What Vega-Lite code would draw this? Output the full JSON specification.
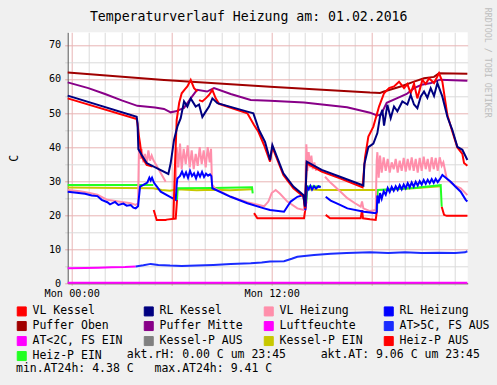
{
"$schema": "https://vega.github.io/schema/vega-lite/v6.json",
"width": 400, "height": 251,
"autosize": {"type": "none"},
"padding": {"left": 67.7, "top": 32.3, "right": 29.3, "bottom": 101.7},
"background": "#f0f0f0",
"title": {"text": "Temperaturverlauf Heizung am: 01.02.2016", "font": "DejaVu Sans Mono", "fontSize": 13.2, "fontWeight": "normal", "color": "#000000", "anchor": "middle", "frame": "group", "dx": -19, "offset": -27.3, "baseline": "alphabetic"},
"data": {"values": [
{"s":"Luftfeuchte","h":-0.24,"v":0.15},{"s":"Luftfeuchte","h":23.74,"v":0.15},
{"s":"AT<2C, FS EIN","h":-0.24,"v":4.4},{"s":"AT<2C, FS EIN","h":0.8,"v":4.5},{"s":"AT<2C, FS EIN","h":1.6,"v":4.6},{"s":"AT<2C, FS EIN","h":2.4,"v":4.7},{"s":"AT<2C, FS EIN","h":3.2,"v":4.8},{"s":"AT<2C, FS EIN","h":3.84,"v":4.95},
{"s":"AT>5C, FS AUS","h":3.84,"v":4.95},{"s":"AT>5C, FS AUS","h":4.3,"v":5.3},{"s":"AT>5C, FS AUS","h":4.74,"v":5.7},{"s":"AT>5C, FS AUS","h":5.2,"v":5.4},{"s":"AT>5C, FS AUS","h":5.9,"v":5.2},{"s":"AT>5C, FS AUS","h":6.6,"v":5.1},{"s":"AT>5C, FS AUS","h":7.5,"v":5.2},{"s":"AT>5C, FS AUS","h":8.5,"v":5.4},{"s":"AT>5C, FS AUS","h":9.54,"v":5.7},{"s":"AT>5C, FS AUS","h":10.74,"v":5.9},{"s":"AT>5C, FS AUS","h":11.4,"v":6.1},{"s":"AT>5C, FS AUS","h":11.9,"v":6.4},{"s":"AT>5C, FS AUS","h":12.74,"v":6.5},{"s":"AT>5C, FS AUS","h":13.2,"v":7.2},{"s":"AT>5C, FS AUS","h":13.54,"v":7.8},{"s":"AT>5C, FS AUS","h":14.54,"v":8.3},{"s":"AT>5C, FS AUS","h":15.54,"v":8.7},{"s":"AT>5C, FS AUS","h":16.5,"v":8.9},{"s":"AT>5C, FS AUS","h":17.9,"v":9.1},{"s":"AT>5C, FS AUS","h":19,"v":8.9},{"s":"AT>5C, FS AUS","h":20,"v":9.1},{"s":"AT>5C, FS AUS","h":21,"v":8.9},{"s":"AT>5C, FS AUS","h":22,"v":9.0},{"s":"AT>5C, FS AUS","h":23,"v":8.9},{"s":"AT>5C, FS AUS","h":23.6,"v":9.1},{"s":"AT>5C, FS AUS","h":23.74,"v":9.4},
{"s":"Puffer Oben","h":-0.24,"v":61.9},{"s":"Puffer Oben","h":5.54,"v":59.7},{"s":"Puffer Oben","h":11.9,"v":57.7},{"s":"Puffer Oben","h":17.9,"v":56.0},{"s":"Puffer Oben","h":18.5,"v":55.9},{"s":"Puffer Oben","h":18.74,"v":56.3},{"s":"Puffer Oben","h":19.74,"v":57.8},{"s":"Puffer Oben","h":20.54,"v":59.2},{"s":"Puffer Oben","h":21.14,"v":60.2},{"s":"Puffer Oben","h":21.74,"v":60.6},{"s":"Puffer Oben","h":22.04,"v":61.7},{"s":"Puffer Oben","h":23.74,"v":61.5},
{"s":"Puffer Mitte","h":-0.24,"v":59.0},{"s":"Puffer Mitte","h":1.0,"v":57.3},{"s":"Puffer Mitte","h":2.0,"v":55.6},{"s":"Puffer Mitte","h":3.0,"v":53.7},{"s":"Puffer Mitte","h":3.94,"v":52.1},{"s":"Puffer Mitte","h":5.0,"v":51.6},{"s":"Puffer Mitte","h":5.54,"v":51.2},{"s":"Puffer Mitte","h":5.94,"v":50.2},{"s":"Puffer Mitte","h":6.24,"v":50.5},{"s":"Puffer Mitte","h":6.74,"v":51.5},{"s":"Puffer Mitte","h":7.14,"v":54.3},{"s":"Puffer Mitte","h":7.52,"v":56.8},{"s":"Puffer Mitte","h":8.12,"v":56.3},{"s":"Puffer Mitte","h":8.54,"v":57.3},{"s":"Puffer Mitte","h":9.54,"v":55.6},{"s":"Puffer Mitte","h":10.74,"v":53.8},{"s":"Puffer Mitte","h":11.9,"v":53.6},{"s":"Puffer Mitte","h":13.94,"v":53.1},{"s":"Puffer Mitte","h":16.52,"v":51.7},{"s":"Puffer Mitte","h":17.9,"v":50.1},{"s":"Puffer Mitte","h":18.32,"v":49.3},{"s":"Puffer Mitte","h":18.55,"v":49.5},{"s":"Puffer Mitte","h":18.9,"v":53.0},{"s":"Puffer Mitte","h":19.6,"v":54.5},{"s":"Puffer Mitte","h":20.1,"v":55.6},{"s":"Puffer Mitte","h":20.54,"v":57.3},{"s":"Puffer Mitte","h":21.0,"v":58.3},{"s":"Puffer Mitte","h":21.56,"v":58.8},{"s":"Puffer Mitte","h":22.1,"v":59.8},{"s":"Puffer Mitte","h":23.74,"v":59.5},
{"s":"Kessel-P EIN","h":-0.24,"v":28.1},{"s":"Kessel-P EIN","h":4.9,"v":27.9},{"s":"Kessel-P EIN","h":5.4,"v":27.4},{"s":"Kessel-P EIN","h":5.9,"v":27.2},{"s":"Kessel-P EIN","h":6.3,"v":27.6},{"s":"Kessel-P EIN","h":7.5,"v":27.3},{"s":"Kessel-P EIN","h":8.5,"v":27.5},{"s":"Kessel-P EIN","h":9.5,"v":27.3},{"s":"Kessel-P EIN","h":10.82,"v":27.6},{"s":"Kessel-P EIN","h":12,"v":null},{"s":"Kessel-P EIN","h":14.1,"v":27.6},{"s":"Kessel-P EIN","h":14.94,"v":27.4},{"s":"Kessel-P EIN","h":15.2,"v":27.4},{"s":"Kessel-P EIN","h":18.3,"v":27.4},{"s":"Kessel-P EIN","h":19.0,"v":27.5},{"s":"Kessel-P EIN","h":20.5,"v":27.9},{"s":"Kessel-P EIN","h":22.14,"v":28.5},
{"s":"Heiz-P AUS","h":4.92,"v":21.5},{"s":"Heiz-P AUS","h":5.1,"v":18.6},{"s":"Heiz-P AUS","h":5.64,"v":18.6},{"s":"Heiz-P AUS","h":5.7,"v":18.7},{"s":"Heiz-P AUS","h":6.24,"v":19.0},{"s":"Heiz-P AUS","h":6.32,"v":24.5},{"s":"Heiz-P AUS","h":8,"v":null},{"s":"Heiz-P AUS","h":10.94,"v":20.6},{"s":"Heiz-P AUS","h":11.14,"v":19.1},{"s":"Heiz-P AUS","h":13.94,"v":19.1},{"s":"Heiz-P AUS","h":14.08,"v":24.0},{"s":"Heiz-P AUS","h":15.1,"v":null},{"s":"Heiz-P AUS","h":15.24,"v":20.1},{"s":"Heiz-P AUS","h":15.5,"v":19.1},{"s":"Heiz-P AUS","h":17.34,"v":19.1},{"s":"Heiz-P AUS","h":17.42,"v":21.5},{"s":"Heiz-P AUS","h":17.48,"v":19.1},{"s":"Heiz-P AUS","h":17.9,"v":18.8},{"s":"Heiz-P AUS","h":18.24,"v":18.6},{"s":"Heiz-P AUS","h":18.32,"v":21.5},{"s":"Heiz-P AUS","h":20,"v":null},{"s":"Heiz-P AUS","h":22.2,"v":22.5},{"s":"Heiz-P AUS","h":22.34,"v":20.1},{"s":"Heiz-P AUS","h":22.5,"v":19.8},{"s":"Heiz-P AUS","h":23.74,"v":19.8},
{"s":"Heiz-P EIN","h":-0.24,"v":28.9},{"s":"Heiz-P EIN","h":4.9,"v":28.9},{"s":"Heiz-P EIN","h":5.5,"v":null},{"s":"Heiz-P EIN","h":6.32,"v":24.5},{"s":"Heiz-P EIN","h":6.36,"v":27.9},{"s":"Heiz-P EIN","h":8.5,"v":28.0},{"s":"Heiz-P EIN","h":10.82,"v":28.2},{"s":"Heiz-P EIN","h":10.86,"v":26.4},{"s":"Heiz-P EIN","h":12,"v":null},{"s":"Heiz-P EIN","h":14.08,"v":24.0},{"s":"Heiz-P EIN","h":14.14,"v":28.4},{"s":"Heiz-P EIN","h":14.94,"v":28.4},{"s":"Heiz-P EIN","h":16,"v":null},{"s":"Heiz-P EIN","h":18.32,"v":21.5},{"s":"Heiz-P EIN","h":18.36,"v":27.4},{"s":"Heiz-P EIN","h":20.5,"v":28.0},{"s":"Heiz-P EIN","h":22.14,"v":28.8},{"s":"Heiz-P EIN","h":22.2,"v":22.5},
{"s":"VL Heizung","h":-0.24,"v":27.4},{"s":"VL Heizung","h":0.5,"v":27.0},{"s":"VL Heizung","h":1.0,"v":26.6},{"s":"VL Heizung","h":1.54,"v":26.0},{"s":"VL Heizung","h":2.14,"v":24.5},{"s":"VL Heizung","h":2.8,"v":24.0},{"s":"VL Heizung","h":3.54,"v":23.5},{"s":"VL Heizung","h":3.84,"v":23.0},{"s":"VL Heizung","h":3.98,"v":23.5},{"s":"VL Heizung","h":4.04,"v":41.0},{"s":"VL Heizung","h":4.12,"v":36.5},{"s":"VL Heizung","h":4.2,"v":39.5},{"s":"VL Heizung","h":4.3,"v":35.5},{"s":"VL Heizung","h":4.4,"v":38.0},{"s":"VL Heizung","h":4.5,"v":35.0},{"s":"VL Heizung","h":4.6,"v":39.0},{"s":"VL Heizung","h":4.7,"v":36.0},{"s":"VL Heizung","h":4.8,"v":37.5},{"s":"VL Heizung","h":4.9,"v":36.2},{"s":"VL Heizung","h":5.64,"v":29.8},{"s":"VL Heizung","h":5.9,"v":null},
{"s":"VL Heizung","h":6.24,"v":27.5},{"s":"VL Heizung","h":6.3,"v":40.0},{"s":"VL Heizung","h":6.4,"v":34.0},{"s":"VL Heizung","h":6.5,"v":41.0},{"s":"VL Heizung","h":6.6,"v":33.5},{"s":"VL Heizung","h":6.72,"v":39.5},{"s":"VL Heizung","h":6.84,"v":35.0},{"s":"VL Heizung","h":6.96,"v":40.5},{"s":"VL Heizung","h":7.08,"v":34.0},{"s":"VL Heizung","h":7.2,"v":39.0},{"s":"VL Heizung","h":7.32,"v":33.5},{"s":"VL Heizung","h":7.44,"v":38.0},{"s":"VL Heizung","h":7.56,"v":34.5},{"s":"VL Heizung","h":7.68,"v":40.0},{"s":"VL Heizung","h":7.8,"v":35.0},{"s":"VL Heizung","h":7.92,"v":39.0},{"s":"VL Heizung","h":8.04,"v":34.0},{"s":"VL Heizung","h":8.16,"v":40.0},{"s":"VL Heizung","h":8.28,"v":35.5},{"s":"VL Heizung","h":8.36,"v":39.5},{"s":"VL Heizung","h":8.42,"v":29.0},{"s":"VL Heizung","h":8.6,"v":27.9},{"s":"VL Heizung","h":9.54,"v":25.4},{"s":"VL Heizung","h":10.54,"v":23.8},{"s":"VL Heizung","h":11.54,"v":22.6},{"s":"VL Heizung","h":11.8,"v":24.0},{"s":"VL Heizung","h":12.0,"v":26.5},{"s":"VL Heizung","h":12.24,"v":27.4},{"s":"VL Heizung","h":12.5,"v":26.3},{"s":"VL Heizung","h":12.94,"v":24.0},{"s":"VL Heizung","h":13.54,"v":22.0},{"s":"VL Heizung","h":13.94,"v":21.5},{"s":"VL Heizung","h":14.02,"v":28.0},{"s":"VL Heizung","h":14.08,"v":40.8},{"s":"VL Heizung","h":14.14,"v":33.0},{"s":"VL Heizung","h":14.22,"v":38.5},{"s":"VL Heizung","h":14.3,"v":34.0},{"s":"VL Heizung","h":14.38,"v":37.5},{"s":"VL Heizung","h":14.46,"v":33.5},{"s":"VL Heizung","h":14.56,"v":35.5},{"s":"VL Heizung","h":14.66,"v":33.0},{"s":"VL Heizung","h":14.8,"v":null},
{"s":"VL Heizung","h":15.2,"v":31.3},{"s":"VL Heizung","h":15.54,"v":29.5},{"s":"VL Heizung","h":16.1,"v":27.0},{"s":"VL Heizung","h":16.54,"v":25.0},{"s":"VL Heizung","h":17.0,"v":23.5},{"s":"VL Heizung","h":17.34,"v":22.5},{"s":"VL Heizung","h":17.42,"v":24.0},{"s":"VL Heizung","h":17.5,"v":22.0},{"s":"VL Heizung","h":17.9,"v":21.2},{"s":"VL Heizung","h":18.24,"v":21.5},{"s":"VL Heizung","h":18.3,"v":36.0},{"s":"VL Heizung","h":18.34,"v":38.5},{"s":"VL Heizung","h":18.42,"v":31.0},{"s":"VL Heizung","h":18.5,"v":37.5},{"s":"VL Heizung","h":18.6,"v":32.5},{"s":"VL Heizung","h":18.72,"v":37.0},{"s":"VL Heizung","h":18.84,"v":33.0},{"s":"VL Heizung","h":18.96,"v":36.5},{"s":"VL Heizung","h":19.08,"v":32.5},{"s":"VL Heizung","h":19.2,"v":35.5},{"s":"VL Heizung","h":19.32,"v":33.5},{"s":"VL Heizung","h":19.44,"v":36.5},{"s":"VL Heizung","h":19.56,"v":32.5},{"s":"VL Heizung","h":19.68,"v":36.0},{"s":"VL Heizung","h":19.8,"v":33.0},{"s":"VL Heizung","h":19.92,"v":36.8},{"s":"VL Heizung","h":20.04,"v":32.8},{"s":"VL Heizung","h":20.16,"v":36.5},{"s":"VL Heizung","h":20.28,"v":33.2},{"s":"VL Heizung","h":20.4,"v":37.0},{"s":"VL Heizung","h":20.52,"v":33.0},{"s":"VL Heizung","h":20.64,"v":36.5},{"s":"VL Heizung","h":20.76,"v":32.5},{"s":"VL Heizung","h":20.88,"v":36.8},{"s":"VL Heizung","h":21.0,"v":33.0},{"s":"VL Heizung","h":21.12,"v":37.2},{"s":"VL Heizung","h":21.24,"v":33.5},{"s":"VL Heizung","h":21.36,"v":36.5},{"s":"VL Heizung","h":21.48,"v":32.8},{"s":"VL Heizung","h":21.6,"v":37.0},{"s":"VL Heizung","h":21.72,"v":33.5},{"s":"VL Heizung","h":21.84,"v":36.8},{"s":"VL Heizung","h":21.96,"v":33.0},{"s":"VL Heizung","h":22.08,"v":37.0},{"s":"VL Heizung","h":22.2,"v":34.5},{"s":"VL Heizung","h":22.3,"v":35.5},{"s":"VL Heizung","h":22.5,"v":30.8},{"s":"VL Heizung","h":22.74,"v":29.6},{"s":"VL Heizung","h":23.0,"v":28.7},{"s":"VL Heizung","h":23.34,"v":27.9},{"s":"VL Heizung","h":23.64,"v":26.4},{"s":"VL Heizung","h":23.74,"v":25.9},
{"s":"RL Heizung","h":-0.24,"v":26.9},{"s":"RL Heizung","h":0.3,"v":26.6},{"s":"RL Heizung","h":0.8,"v":26.3},{"s":"RL Heizung","h":1.2,"v":25.8},{"s":"RL Heizung","h":1.54,"v":25.6},{"s":"RL Heizung","h":1.8,"v":24.5},{"s":"RL Heizung","h":2.14,"v":23.8},{"s":"RL Heizung","h":2.3,"v":23.2},{"s":"RL Heizung","h":2.6,"v":23.9},{"s":"RL Heizung","h":2.8,"v":23.0},{"s":"RL Heizung","h":3.1,"v":23.4},{"s":"RL Heizung","h":3.3,"v":22.8},{"s":"RL Heizung","h":3.54,"v":23.0},{"s":"RL Heizung","h":3.7,"v":22.2},{"s":"RL Heizung","h":3.84,"v":22.0},{"s":"RL Heizung","h":3.98,"v":22.6},{"s":"RL Heizung","h":4.1,"v":28.4},{"s":"RL Heizung","h":4.3,"v":28.9},{"s":"RL Heizung","h":4.54,"v":29.6},{"s":"RL Heizung","h":4.66,"v":31.0},{"s":"RL Heizung","h":4.74,"v":30.2},{"s":"RL Heizung","h":4.82,"v":31.0},{"s":"RL Heizung","h":4.94,"v":29.5},{"s":"RL Heizung","h":5.34,"v":26.9},{"s":"RL Heizung","h":5.9,"v":25.4},{"s":"RL Heizung","h":6.24,"v":24.5},{"s":"RL Heizung","h":6.3,"v":29.0},{"s":"RL Heizung","h":6.34,"v":30.8},{"s":"RL Heizung","h":6.5,"v":31.5},{"s":"RL Heizung","h":6.62,"v":32.8},{"s":"RL Heizung","h":6.74,"v":31.3},{"s":"RL Heizung","h":6.86,"v":32.6},{"s":"RL Heizung","h":6.98,"v":31.0},{"s":"RL Heizung","h":7.1,"v":33.0},{"s":"RL Heizung","h":7.22,"v":31.5},{"s":"RL Heizung","h":7.34,"v":32.3},{"s":"RL Heizung","h":7.46,"v":30.8},{"s":"RL Heizung","h":7.58,"v":32.5},{"s":"RL Heizung","h":7.7,"v":31.3},{"s":"RL Heizung","h":7.82,"v":32.7},{"s":"RL Heizung","h":7.94,"v":31.2},{"s":"RL Heizung","h":8.06,"v":32.2},{"s":"RL Heizung","h":8.18,"v":31.6},{"s":"RL Heizung","h":8.3,"v":32.0},{"s":"RL Heizung","h":8.38,"v":31.5},{"s":"RL Heizung","h":8.44,"v":27.9},{"s":"RL Heizung","h":9.54,"v":25.4},{"s":"RL Heizung","h":10.54,"v":23.5},{"s":"RL Heizung","h":11.54,"v":22.0},{"s":"RL Heizung","h":11.9,"v":21.5},{"s":"RL Heizung","h":12.74,"v":21.0},{"s":"RL Heizung","h":13.14,"v":24.0},{"s":"RL Heizung","h":13.54,"v":25.4},{"s":"RL Heizung","h":13.9,"v":25.9},{"s":"RL Heizung","h":14.02,"v":21.5},{"s":"RL Heizung","h":14.12,"v":28.4},{"s":"RL Heizung","h":14.22,"v":27.6},{"s":"RL Heizung","h":14.32,"v":28.6},{"s":"RL Heizung","h":14.42,"v":27.5},{"s":"RL Heizung","h":14.54,"v":28.5},{"s":"RL Heizung","h":14.66,"v":27.8},{"s":"RL Heizung","h":14.8,"v":28.5},{"s":"RL Heizung","h":14.94,"v":28.2},{"s":"RL Heizung","h":15.1,"v":null},{"s":"RL Heizung","h":15.24,"v":25.4},{"s":"RL Heizung","h":15.54,"v":24.3},{"s":"RL Heizung","h":16.1,"v":23.0},{"s":"RL Heizung","h":16.54,"v":22.0},{"s":"RL Heizung","h":17.54,"v":21.0},{"s":"RL Heizung","h":17.9,"v":20.8},{"s":"RL Heizung","h":18.24,"v":20.6},{"s":"RL Heizung","h":18.3,"v":21.0},{"s":"RL Heizung","h":18.34,"v":25.8},{"s":"RL Heizung","h":18.42,"v":23.5},{"s":"RL Heizung","h":18.5,"v":26.5},{"s":"RL Heizung","h":18.6,"v":24.8},{"s":"RL Heizung","h":18.72,"v":27.0},{"s":"RL Heizung","h":18.84,"v":26.0},{"s":"RL Heizung","h":18.96,"v":28.0},{"s":"RL Heizung","h":19.08,"v":26.8},{"s":"RL Heizung","h":19.2,"v":28.3},{"s":"RL Heizung","h":19.32,"v":27.2},{"s":"RL Heizung","h":19.44,"v":28.5},{"s":"RL Heizung","h":19.56,"v":27.4},{"s":"RL Heizung","h":19.68,"v":28.8},{"s":"RL Heizung","h":19.8,"v":27.6},{"s":"RL Heizung","h":19.92,"v":29.0},{"s":"RL Heizung","h":20.04,"v":27.9},{"s":"RL Heizung","h":20.16,"v":29.4},{"s":"RL Heizung","h":20.28,"v":28.2},{"s":"RL Heizung","h":20.4,"v":29.6},{"s":"RL Heizung","h":20.52,"v":28.4},{"s":"RL Heizung","h":20.64,"v":29.8},{"s":"RL Heizung","h":20.76,"v":28.7},{"s":"RL Heizung","h":20.88,"v":30.0},{"s":"RL Heizung","h":21.0,"v":29.0},{"s":"RL Heizung","h":21.12,"v":30.3},{"s":"RL Heizung","h":21.24,"v":29.2},{"s":"RL Heizung","h":21.36,"v":30.4},{"s":"RL Heizung","h":21.48,"v":29.4},{"s":"RL Heizung","h":21.6,"v":30.6},{"s":"RL Heizung","h":21.72,"v":29.5},{"s":"RL Heizung","h":21.84,"v":30.7},{"s":"RL Heizung","h":21.96,"v":29.7},{"s":"RL Heizung","h":22.08,"v":30.5},{"s":"RL Heizung","h":22.24,"v":31.8},{"s":"RL Heizung","h":22.5,"v":30.8},{"s":"RL Heizung","h":22.74,"v":29.8},{"s":"RL Heizung","h":23.0,"v":28.5},{"s":"RL Heizung","h":23.34,"v":26.9},{"s":"RL Heizung","h":23.64,"v":24.5},{"s":"RL Heizung","h":23.74,"v":24.0},
{"s":"VL Kessel","h":-0.24,"v":54.3},{"s":"VL Kessel","h":3.9,"v":48.2},{"s":"VL Kessel","h":3.97,"v":46.0},{"s":"VL Kessel","h":4.04,"v":43.0},{"s":"VL Kessel","h":4.1,"v":41.1},{"s":"VL Kessel","h":4.2,"v":37.2},{"s":"VL Kessel","h":4.5,"v":34.8},{"s":"VL Kessel","h":4.85,"v":34.3},{"s":"VL Kessel","h":4.88,"v":null},{"s":"VL Kessel","h":6.1,"v":19.0},{"s":"VL Kessel","h":6.2,"v":35.0},{"s":"VL Kessel","h":6.3,"v":48.0},{"s":"VL Kessel","h":6.45,"v":53.0},{"s":"VL Kessel","h":6.6,"v":55.8},{"s":"VL Kessel","h":6.8,"v":57.0},{"s":"VL Kessel","h":6.94,"v":57.8},{"s":"VL Kessel","h":7.14,"v":59.7},{"s":"VL Kessel","h":7.34,"v":57.3},{"s":"VL Kessel","h":7.54,"v":56.3},{"s":"VL Kessel","h":7.6,"v":null},{"s":"VL Kessel","h":7.64,"v":53.8},{"s":"VL Kessel","h":7.84,"v":53.4},{"s":"VL Kessel","h":8.04,"v":54.3},{"s":"VL Kessel","h":8.24,"v":55.3},{"s":"VL Kessel","h":8.44,"v":56.8},{"s":"VL Kessel","h":8.64,"v":54.3},{"s":"VL Kessel","h":8.84,"v":52.7},{"s":"VL Kessel","h":10.54,"v":49.9},{"s":"VL Kessel","h":10.94,"v":46.5},{"s":"VL Kessel","h":11.2,"v":44.5},{"s":"VL Kessel","h":11.54,"v":40.6},{"s":"VL Kessel","h":11.9,"v":35.7},{"s":"VL Kessel","h":12.04,"v":40.0},{"s":"VL Kessel","h":12.7,"v":31.8},{"s":"VL Kessel","h":13.3,"v":27.9},{"s":"VL Kessel","h":13.9,"v":25.5},{"s":"VL Kessel","h":14.0,"v":22.0},{"s":"VL Kessel","h":14.1,"v":35.2},{"s":"VL Kessel","h":15.0,"v":32.8},{"s":"VL Kessel","h":16.1,"v":30.8},{"s":"VL Kessel","h":17.45,"v":28.2},{"s":"VL Kessel","h":17.6,"v":37.0},{"s":"VL Kessel","h":17.8,"v":43.1},{"s":"VL Kessel","h":18.1,"v":46.0},{"s":"VL Kessel","h":18.44,"v":51.9},{"s":"VL Kessel","h":18.74,"v":55.8},{"s":"VL Kessel","h":19.04,"v":57.3},{"s":"VL Kessel","h":19.34,"v":57.8},{"s":"VL Kessel","h":19.64,"v":59.2},{"s":"VL Kessel","h":19.94,"v":57.3},{"s":"VL Kessel","h":20.14,"v":58.5},{"s":"VL Kessel","h":20.34,"v":55.8},{"s":"VL Kessel","h":20.54,"v":58.6},{"s":"VL Kessel","h":20.74,"v":54.3},{"s":"VL Kessel","h":21.04,"v":59.7},{"s":"VL Kessel","h":21.24,"v":58.5},{"s":"VL Kessel","h":21.44,"v":60.2},{"s":"VL Kessel","h":21.74,"v":58.8},{"s":"VL Kessel","h":22.04,"v":61.7},{"s":"VL Kessel","h":22.24,"v":59.2},{"s":"VL Kessel","h":22.54,"v":49.4},{"s":"VL Kessel","h":22.84,"v":44.5},{"s":"VL Kessel","h":23.14,"v":39.9},{"s":"VL Kessel","h":23.44,"v":38.0},{"s":"VL Kessel","h":23.54,"v":35.3},{"s":"VL Kessel","h":23.74,"v":34.5},
{"s":"RL Kessel","h":-0.24,"v":55.1},{"s":"RL Kessel","h":3.9,"v":48.9},{"s":"RL Kessel","h":3.95,"v":47.0},{"s":"RL Kessel","h":4.0,"v":39.4},{"s":"RL Kessel","h":4.2,"v":37.7},{"s":"RL Kessel","h":4.5,"v":35.3},{"s":"RL Kessel","h":5.8,"v":32.1},{"s":"RL Kessel","h":5.94,"v":35.3},{"s":"RL Kessel","h":6.14,"v":42.1},{"s":"RL Kessel","h":6.34,"v":46.0},{"s":"RL Kessel","h":6.54,"v":48.5},{"s":"RL Kessel","h":6.74,"v":53.4},{"s":"RL Kessel","h":6.94,"v":51.9},{"s":"RL Kessel","h":7.14,"v":54.3},{"s":"RL Kessel","h":7.44,"v":51.9},{"s":"RL Kessel","h":7.64,"v":52.5},{"s":"RL Kessel","h":7.84,"v":48.8},{"s":"RL Kessel","h":8.04,"v":50.4},{"s":"RL Kessel","h":8.24,"v":51.9},{"s":"RL Kessel","h":8.44,"v":54.3},{"s":"RL Kessel","h":8.74,"v":52.9},{"s":"RL Kessel","h":10.54,"v":50.4},{"s":"RL Kessel","h":10.9,"v":49.9},{"s":"RL Kessel","h":11.24,"v":45.0},{"s":"RL Kessel","h":11.6,"v":41.5},{"s":"RL Kessel","h":11.9,"v":36.2},{"s":"RL Kessel","h":12.04,"v":40.6},{"s":"RL Kessel","h":12.7,"v":32.3},{"s":"RL Kessel","h":13.3,"v":28.4},{"s":"RL Kessel","h":13.9,"v":25.9},{"s":"RL Kessel","h":14.0,"v":22.5},{"s":"RL Kessel","h":14.1,"v":35.7},{"s":"RL Kessel","h":15.0,"v":33.3},{"s":"RL Kessel","h":16.1,"v":31.3},{"s":"RL Kessel","h":17.5,"v":28.7},{"s":"RL Kessel","h":17.56,"v":35.0},{"s":"RL Kessel","h":17.8,"v":40.0},{"s":"RL Kessel","h":18.1,"v":41.0},{"s":"RL Kessel","h":18.34,"v":44.1},{"s":"RL Kessel","h":18.5,"v":49.0},{"s":"RL Kessel","h":18.64,"v":50.9},{"s":"RL Kessel","h":18.74,"v":46.3},{"s":"RL Kessel","h":18.94,"v":52.4},{"s":"RL Kessel","h":19.14,"v":48.5},{"s":"RL Kessel","h":19.34,"v":51.9},{"s":"RL Kessel","h":19.54,"v":50.5},{"s":"RL Kessel","h":19.84,"v":53.4},{"s":"RL Kessel","h":20.14,"v":52.5},{"s":"RL Kessel","h":20.34,"v":55.3},{"s":"RL Kessel","h":20.54,"v":52.5},{"s":"RL Kessel","h":20.74,"v":51.4},{"s":"RL Kessel","h":20.94,"v":54.8},{"s":"RL Kessel","h":21.14,"v":56.3},{"s":"RL Kessel","h":21.34,"v":54.5},{"s":"RL Kessel","h":21.54,"v":57.3},{"s":"RL Kessel","h":21.74,"v":55.0},{"s":"RL Kessel","h":21.94,"v":58.8},{"s":"RL Kessel","h":22.24,"v":54.8},{"s":"RL Kessel","h":22.54,"v":48.9},{"s":"RL Kessel","h":22.84,"v":45.0},{"s":"RL Kessel","h":23.14,"v":40.1},{"s":"RL Kessel","h":23.44,"v":39.2},{"s":"RL Kessel","h":23.74,"v":36.2}
]},
"mark": {"type": "line", "strokeWidth": 2},
"encoding": {
"x": {"field": "h", "type": "quantitative", "scale": {"domain": [-0.24, 23.76], "nice": false, "zero": false},
 "axis": {"values": [0,1,2,3,4,5,6,7,8,9,10,11,12,13,14,15,16,17,18,19,20,21,22,23],
  "labelExpr": "datum.value == 0 ? 'Mon 00:00' : (datum.value == 12 ? 'Mon 12:00' : '')",
  "labelFont": "DejaVu Sans Mono", "labelFontSize": 10.2, "labelColor": "#000000", "labelPadding": 3, "labelOverlap": false, "labelFlush": false, "labelBound": false,
  "tickSize": 2, "tickColor": {"condition": {"test": "datum.value % 6 === 0", "value": "#e2a8a8"}, "value": "#d4d4d4"},
  "gridColor": {"condition": {"test": "datum.value % 6 === 0", "value": "#e8b4b4"}, "value": "#dadada"}, "gridOpacity": 1, "gridWidth": 1,
  "domainColor": "#555555",
  "title": "RRDTOOL / TOBI OETIKER", "titleAngle": 90, "titleX": 419, "titleY": -221, "titleAlign": "center", "titleBaseline": "middle",
  "titleFont": "DejaVu Sans Mono", "titleFontSize": 8.3, "titleFontWeight": "normal", "titleColor": "#bdbdbd"}},
"y": {"field": "v", "type": "quantitative", "scale": {"domain": [0, 73.7], "nice": false, "zero": true},
 "axis": {"values": [0,5,10,15,20,25,30,35,40,45,50,55,60,65,70],
  "labelExpr": "datum.value % 10 === 0 ? format(datum.value, 'd') : ''",
  "labelFont": "DejaVu Sans Mono", "labelFontSize": 10.2, "labelColor": "#000000", "labelPadding": 4, "labelOverlap": false,
  "tickSize": 3, "tickColor": {"condition": {"test": "datum.value % 10 === 0", "value": "#e2a8a8"}, "value": "#d4d4d4"},
  "gridColor": {"condition": {"test": "datum.value % 10 === 0", "value": "#e8b4b4"}, "value": "#dadada"}, "gridOpacity": 1, "gridWidth": 1,
  "domainColor": "#555555",
  "title": "C", "titleX": -52.7, "titleY": 125.5, "titleAngle": -90, "titleAlign": "center", "titleBaseline": "middle",
  "titleFont": "DejaVu Sans Mono", "titleFontSize": 11.5, "titleFontWeight": "normal", "titleColor": "#000000"}},
"color": {"field": "s", "type": "nominal",
 "scale": {"domain": ["VL Kessel","RL Kessel","VL Heizung","RL Heizung","Puffer Oben","Puffer Mitte","Luftfeuchte","AT>5C, FS AUS","AT<2C, FS EIN","Kessel-P AUS","Kessel-P EIN","Heiz-P AUS","Heiz-P EIN"],
  "range": ["#ff0000","#000080","#ff8fab","#0000ff","#a00000","#880088","#ff00ff","#1a2cff","#ff00ff","#808080","#c8c800","#ff0000","#22ff22"]},
 "legend": {"orient": "none", "legendX": -51.7, "legendY": 273, "direction": "horizontal", "columns": 4, "columnPadding": 19, "rowPadding": 1,
  "symbolType": "square", "symbolSize": 81, "symbolStrokeWidth": 1,
  "labelFont": "DejaVu Sans Mono", "labelFontSize": 11.5, "labelColor": "#000000", "labelOffset": 5, "labelLimit": 300,
  "title": ["\u200d\u00a0\u00a0\u00a0\u00a0\u00a0\u00a0\u00a0\u00a0\u00a0\u00a0\u00a0\u00a0\u00a0\u00a0\u00a0\u00a0akt.rH: 0.00 C um 23:45\u00a0\u00a0\u00a0\u00a0\u00a0akt.AT: 9.06 C um 23:45", "min.AT24h: 4.38 C\u00a0\u00a0\u00a0max.AT24h: 9.41 C"],
  "titleOrient": "bottom", "titleAnchor": "start", "titleBaseline": "top", "titlePadding": -13, "titleLimit": 600,
  "titleFont": "DejaVu Sans Mono", "titleFontSize": 11.5, "titleFontWeight": "normal", "titleColor": "#000000", "titleLineHeight": 14,
  "encode": {"symbols": {"update": {"fill": {"scale": "color", "field": "value"}, "stroke": {"value": "#000000"}, "strokeWidth": {"value": 1}, "opacity": {"value": 1}, "fillOpacity": {"value": 1}}}}}}
},
"config": {"view": {"fill": "#ffffff", "stroke": null}, "font": "DejaVu Sans Mono"}
}
